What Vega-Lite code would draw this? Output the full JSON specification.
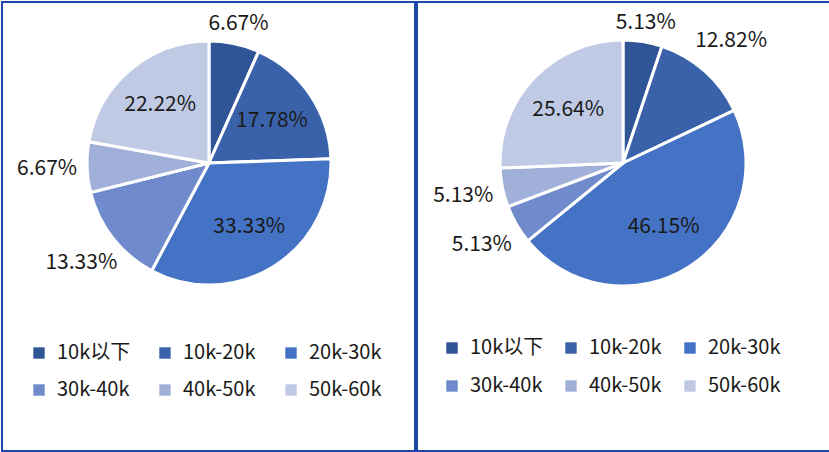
{
  "$schema": "https://vega.github.io/schema/vega-lite/v6.json",
  "padding": {"left": 1, "top": 1, "right": 1, "bottom": 1},
  "spacing": 0,
  "background": "white",
  "config": {
    "view": {"stroke": "#1A47A8", "strokeWidth": 2},
    "font": "Noto Sans CJK SC",
    "text": {"fontSize": 21, "color": "#1a1a1a"},
    "legend": {
      "orient": "none", "columns": 3, "direction": "horizontal",
      "labelFont": "Noto Sans CJK SC", "labelFontSize": 20, "labelColor": "#1a1a1a",
      "symbolType": "square", "symbolSize": 130, "symbolStrokeWidth": 0,
      "labelOffset": 8, "rowPadding": 17, "gridAlign": "all", "title": null
    }
  },
  "datasets": {
    "left": [
      {"cat": "10k以下", "idx": 1, "pct": 0.0667},
      {"cat": "10k-20k", "idx": 2, "pct": 0.1778},
      {"cat": "20k-30k", "idx": 3, "pct": 0.3333},
      {"cat": "30k-40k", "idx": 4, "pct": 0.1333},
      {"cat": "40k-50k", "idx": 5, "pct": 0.0667},
      {"cat": "50k-60k", "idx": 6, "pct": 0.2222}
    ],
    "right": [
      {"cat": "10k以下", "idx": 1, "pct": 0.0513},
      {"cat": "10k-20k", "idx": 2, "pct": 0.1282},
      {"cat": "20k-30k", "idx": 3, "pct": 0.4615},
      {"cat": "30k-40k", "idx": 4, "pct": 0.0513},
      {"cat": "40k-50k", "idx": 5, "pct": 0.0513},
      {"cat": "50k-60k", "idx": 6, "pct": 0.2564}
    ]
  },
  "resolve": {"legend": {"color": "independent"}, "scale": {"color": "independent"}},
  "hconcat": [
    {
      "width": 413, "height": 449,
      "view": {"stroke": "#1A47A8", "strokeWidth": 2},
      "data": {"name": "left"},
      "layer": [
        {
          "mark": {"type": "arc", "outerRadius": 122, "stroke": "white", "strokeWidth": 3, "x": 207, "y": 161},
          "encoding": {
            "theta": {"field": "pct", "type": "quantitative", "stack": true, "scale": {"domain": [0, 1]}},
            "order": {"field": "idx", "type": "quantitative"},
            "color": {
              "field": "cat", "type": "nominal",
              "scale": {
                "domain": ["10k以下", "10k-20k", "20k-30k", "30k-40k", "40k-50k", "50k-60k"],
                "range": ["#2F5597", "#3A62AA", "#4472C4", "#6F8BCB", "#A0B0D8", "#C0CAE5"]
              },
              "legend": {"legendX": 27, "legendY": 341, "columnPadding": 24}
            }
          }
        },
        {
          "transform": [
            {"stack": "pct", "groupby": [], "sort": [{"field": "idx"}], "as": ["t0", "t1"]},
            {"filter": "datum.pct >= 0.15"},
            {"calculate": "(datum.t0 + datum.t1) / 2", "as": "tm"}
          ],
          "mark": {"type": "text", "radius": 76, "x": 207, "y": 161},
          "encoding": {
            "theta": {"field": "tm", "type": "quantitative", "stack": null},
            "text": {"field": "pct", "type": "quantitative", "format": ".2%"}
          }
        },
        {
          "transform": [
            {"stack": "pct", "groupby": [], "sort": [{"field": "idx"}], "as": ["t0", "t1"]},
            {"filter": "datum.pct < 0.15 && datum.idx == 1"},
            {"calculate": "(datum.t0 + datum.t1) / 2", "as": "tm"}
          ],
          "mark": {"type": "text", "radius": 142, "x": 207, "y": 161},
          "encoding": {
            "theta": {"field": "tm", "type": "quantitative", "stack": null},
            "text": {"field": "pct", "type": "quantitative", "format": ".2%"}
          }
        },
        {
          "transform": [
            {"stack": "pct", "groupby": [], "sort": [{"field": "idx"}], "as": ["t0", "t1"]},
            {"filter": "datum.pct < 0.15 && datum.idx != 1"},
            {"calculate": "(datum.t0 + datum.t1) / 2", "as": "tm"}
          ],
          "mark": {"type": "text", "radius": 162, "x": 207, "y": 161},
          "encoding": {
            "theta": {"field": "tm", "type": "quantitative", "stack": null},
            "text": {"field": "pct", "type": "quantitative", "format": ".2%"}
          }
        }
      ]
    },
    {
      "width": 413, "height": 449,
      "view": {"stroke": "#1A47A8", "strokeWidth": 2},
      "data": {"name": "right"},
      "layer": [
        {
          "mark": {"type": "arc", "outerRadius": 123, "stroke": "white", "strokeWidth": 3, "x": 206, "y": 161},
          "encoding": {
            "theta": {"field": "pct", "type": "quantitative", "stack": true, "scale": {"domain": [0, 1]}},
            "order": {"field": "idx", "type": "quantitative"},
            "color": {
              "field": "cat", "type": "nominal",
              "scale": {
                "domain": ["10k以下", "10k-20k", "20k-30k", "30k-40k", "40k-50k", "50k-60k"],
                "range": ["#2F5597", "#3A62AA", "#4472C4", "#6F8BCB", "#A0B0D8", "#C0CAE5"]
              },
              "legend": {"legendX": 25, "legendY": 336, "columnPadding": 17, "rowPadding": 18}
            }
          }
        },
        {
          "transform": [
            {"stack": "pct", "groupby": [], "sort": [{"field": "idx"}], "as": ["t0", "t1"]},
            {"filter": "datum.pct >= 0.15"},
            {"calculate": "(datum.t0 + datum.t1) / 2", "as": "tm"}
          ],
          "mark": {"type": "text", "radius": 76, "x": 206, "y": 161},
          "encoding": {
            "theta": {"field": "tm", "type": "quantitative", "stack": null},
            "text": {"field": "pct", "type": "quantitative", "format": ".2%"}
          }
        },
        {
          "transform": [
            {"stack": "pct", "groupby": [], "sort": [{"field": "idx"}], "as": ["t0", "t1"]},
            {"filter": "datum.pct < 0.15 && datum.idx == 1"},
            {"calculate": "(datum.t0 + datum.t1) / 2", "as": "tm"}
          ],
          "mark": {"type": "text", "radius": 142, "x": 206, "y": 161},
          "encoding": {
            "theta": {"field": "tm", "type": "quantitative", "stack": null},
            "text": {"field": "pct", "type": "quantitative", "format": ".2%"}
          }
        },
        {
          "transform": [
            {"stack": "pct", "groupby": [], "sort": [{"field": "idx"}], "as": ["t0", "t1"]},
            {"filter": "datum.pct < 0.15 && datum.idx != 1"},
            {"calculate": "(datum.t0 + datum.t1) / 2", "as": "tm"}
          ],
          "mark": {"type": "text", "radius": 163, "x": 206, "y": 161},
          "encoding": {
            "theta": {"field": "tm", "type": "quantitative", "stack": null},
            "text": {"field": "pct", "type": "quantitative", "format": ".2%"}
          }
        }
      ]
    }
  ]
}
